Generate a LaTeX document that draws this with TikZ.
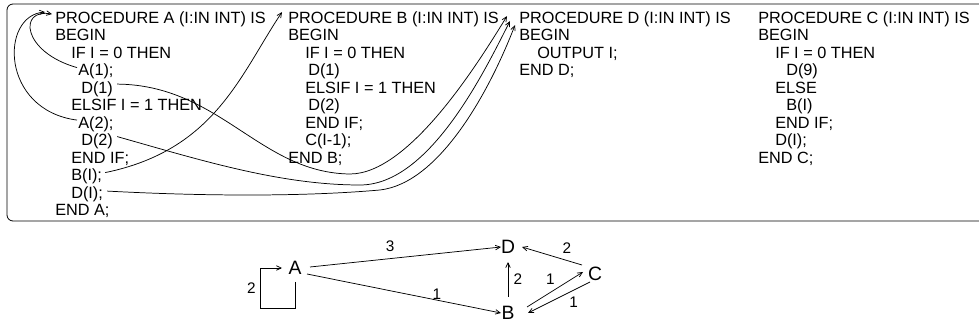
\documentclass[tikz,border=0pt]{standalone}
\usepackage{fontspec}
\setmainfont{Liberation Sans}
\usetikzlibrary{arrows.meta,calc}
\begin{document}
\begin{tikzpicture}[x=0.75pt,y=-0.75pt,
  code/.style={anchor=base west,inner sep=0pt,font=\fontsize{12.2}{14}\selectfont},
  gnode/.style={inner sep=0pt,font=\fontsize{14.5}{16}\selectfont},
  lbl/.style={inner sep=1pt,font=\fontsize{11.5}{13}\selectfont},
  conn/.style={line width=0.55pt,-{Straight Barb[length=3.6pt,width=3.4pt]}},
  frame/.style={line width=0.6pt,rounded corners=4.5pt}]
\useasboundingbox (0,0) rectangle (979,327);
\draw[frame] (985,4) -- (7,4) -- (7,221) -- (985,221);
% Procedure A
\def\bl#1{23.3+17.5*#1}
\node[code] (pa) at (55,{\bl{0}}) {PROCEDURE A (I:IN INT) IS};
\node[code] (a1) at (55,{\bl{1}}) {BEGIN};
\node[code] (a2) at (71,{\bl{2}}) {IF I = 0 THEN};
\node[code] (a3) at (78,{\bl{3}}) {A(1);};
\node[code] (a4) at (81,{\bl{4}}) {D(1)};
\node[code] (a5) at (71,{\bl{5}}) {ELSIF I = 1 THEN};
\node[code] (a6) at (78,{\bl{6}}) {A(2);};
\node[code] (a7) at (81,{\bl{7}}) {D(2)};
\node[code] (a8) at (71,{\bl{8}}) {END IF;};
\node[code] (a9) at (71,{\bl{9}}) {B(I);};
\node[code] (a10) at (71,{\bl{10}}) {D(I);};
\node[code] (a11) at (55,{\bl{11}}) {END A;};
% Procedure B
\node[code] (pb) at (288,{\bl{0}}) {PROCEDURE B (I:IN INT) IS};
\node[code] (b1) at (288,{\bl{1}}) {BEGIN};
\node[code] (b2) at (305,{\bl{2}}) {IF I = 0 THEN};
\node[code] (b3) at (308,{\bl{3}}) {D(1)};
\node[code] (b4) at (305,{\bl{4}}) {ELSIF I = 1 THEN};
\node[code] (b5) at (308,{\bl{5}}) {D(2)};
\node[code] (b6) at (305,{\bl{6}}) {END IF;};
\node[code] (b7) at (305,{\bl{7}}) {C(I-1);};
\node[code] (b8) at (288,{\bl{8}}) {END B;};
% Procedure D
\node[code] (pd) at (519,{\bl{0}}) {PROCEDURE D (I:IN INT) IS};
\node[code] (d1) at (519,{\bl{1}}) {BEGIN};
\node[code] (d2) at (537,{\bl{2}}) {OUTPUT I;};
\node[code] (d3) at (519,{\bl{3}}) {END D;};
% Procedure C
\node[code] (pc) at (758,{\bl{0}}) {PROCEDURE C (I:IN INT) IS};
\node[code] (c1) at (758,{\bl{1}}) {BEGIN};
\node[code] (c2) at (775,{\bl{2}}) {IF I = 0 THEN};
\node[code] (c3) at (786,{\bl{3}}) {D(9)};
\node[code] (c4) at (775,{\bl{4}}) {ELSE};
\node[code] (c5) at (786,{\bl{5}}) {B(I)};
\node[code] (c6) at (775,{\bl{6}}) {END IF;};
\node[code] (c7) at (775,{\bl{7}}) {D(I);};
\node[code] (c8) at (758,{\bl{8}}) {END C;};
% call arrows in the code
\draw[conn] ($(a3.west)+(-1,-4)$) .. controls (22,52) and (18,8) .. ($(pa.west)+(-3,-5)$);
\draw[conn] ($(a6.west)+(-1,-4)$) .. controls (0,110) and (0,15) .. ($(pa.west)+(-10,-7)$);
\draw[conn] ($(a9.east)+(3,-4)$) .. controls (215,150) and (240,75) .. ($(pb.west)+(-6,-7)$);
\draw[conn] ($(a4.east)+(4,-5)$) .. controls (220,85) and (260,173) .. (350,174)
  .. controls (410,174) and (480,60) .. ($(pd.west)+(-12,-3)$);
\draw[conn] ($(a7.east)+(4,-5)$) .. controls (200,160) and (280,185) .. (360,185)
  .. controls (430,185) and (485,70) .. ($(pd.west)+(-9,2)$);
\draw[conn] ($(a10.east)+(4,-3)$) .. controls (200,196) and (300,197) .. (380,190)
  .. controls (440,183) and (490,90) .. ($(pd.west)+(-4,6)$);
% call graph
\node[gnode] (A) at (295,268) {A};
\node[gnode] (D) at (508,247) {D};
\node[gnode] (C) at (595,274) {C};
\node[gnode] (B) at (508,313) {B};
\draw[conn] ($(A)+(15,-1)$) -- node[lbl,pos=0.42,above=4pt] {3} ($(D)+(-7,0)$);
\draw[conn] ($(A)+(12,6)$) -- node[lbl,pos=0.67,above=-1pt] {1} ($(B)+(-7,0)$);
\draw[conn] ($(B)+(0,-16)$) -- node[lbl,right=3pt] {2} ($(D)+(0,15)$);
\draw[conn] ($(C)+(-13,-9)$) -- node[lbl,pos=0.25,above=4pt] {2} ($(D)+(14,0)$);
\draw[conn] ($(B)+(19,-6)$) -- node[lbl,pos=0.55,above left=1pt] {1} ($(C)+(-12,-2)$);
\draw[conn] ($(C)+(-5,8)$) -- node[lbl,pos=0.38,below right=1pt] {1} ($(B)+(20,0)$);
\draw[conn] ($(A)+(0,14)$) -- ($(A)+(0,40)$) -- ($(A)+(-35,40)$) -- node[lbl,left=2pt] {2} ($(A)+(-35,0)$) -- ($(A)+(-13,0)$);
\end{tikzpicture}
\end{document}
